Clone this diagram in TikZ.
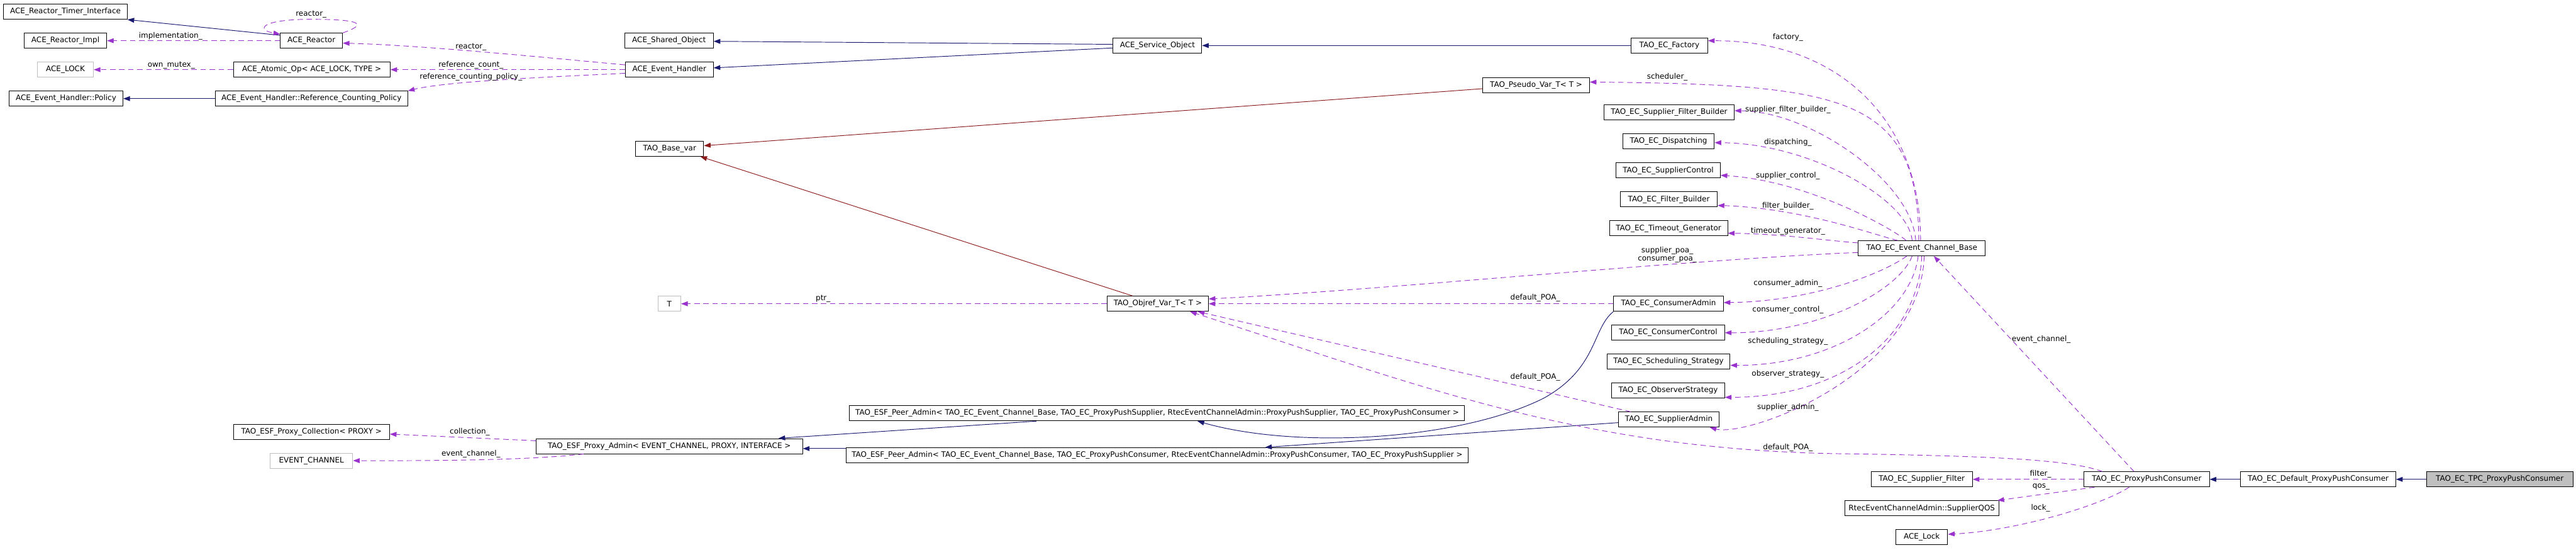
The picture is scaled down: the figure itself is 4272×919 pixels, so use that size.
\documentclass[tikz,border=0pt]{standalone}
\usepackage{fontspec}
\usetikzlibrary{arrows.meta,calc}
\newfontfamily\dvfont{DejaVu Sans}
\newcommand\dvsz{\dvfont\fontsize{12.5}{14}\selectfont}
\definecolor{inhblue}{HTML}{191970}
\definecolor{usepurple}{HTML}{9A32CD}
\definecolor{privred}{HTML}{8B1A1A}
\definecolor{boxgray}{HTML}{BFBFBF}
\definecolor{rootgray}{HTML}{BFBFBF}
\tikzset{
  box/.style={draw=black, line width=1pt, fill=white, minimum height=25pt, inner sep=0pt, font=\dvsz},
  gbox/.style={box, draw=boxgray},
  rootbox/.style={box, fill=rootgray},
  lbl/.style={inner sep=0pt, font=\dvsz},
  inh/.style={draw=inhblue, line width=1pt, -{Triangle[length=11pt,width=8pt]}},
  priv/.style={draw=privred, line width=1pt, -{Triangle[length=11pt,width=8pt]}},
  use/.style={draw=usepurple, line width=1pt, dash pattern=on 9pt off 6pt, -{Triangle[length=11pt,width=8pt]}}
}
\begin{document}
\begin{tikzpicture}[x=1pt,y=-1pt]
\useasboundingbox (0,0) rectangle (4272,919);
% column 1
\node[box, minimum width=205pt] (rti) at (108.5,19.5) {ACE\_Reactor\_Timer\_Interface};
\node[box, minimum width=137pt] (rimpl) at (108.5,67.5) {ACE\_Reactor\_Impl};
\node[gbox, minimum width=93pt] (lockL) at (108.5,115.5) {ACE\_LOCK};
\node[box, minimum width=189pt] (policy) at (109.5,163.5) {ACE\_Event\_Handler::Policy};
% column 2
\node[box, minimum width=103pt] (reactor) at (516.5,67.5) {ACE\_Reactor};
\node[box, minimum width=260pt] (atomic) at (517,115.5) {ACE\_Atomic\_Op< ACE\_LOCK, TYPE >};
\node[box, minimum width=319pt] (rcp) at (516.5,163.5) {ACE\_Event\_Handler::Reference\_Counting\_Policy};
\node[box, minimum width=259pt] (coll) at (516.5,715.5) {TAO\_ESF\_Proxy\_Collection< PROXY >};
\node[gbox, minimum width=137pt] (evch) at (516.5,763.5) {EVENT\_CHANNEL};
% column 3
\node[box, minimum width=147pt] (shared) at (1109.5,67.5) {ACE\_Shared\_Object};
\node[box, minimum width=146pt] (evh) at (1110,115.5) {ACE\_Event\_Handler};
\node[box, minimum width=113pt] (basevar) at (1110.5,246.5) {TAO\_Base\_var};
\node[gbox, minimum width=38pt] (T) at (1110,503.5) {T};
\node[box, minimum width=442pt] (proxyadmin) at (1110,739.5) {TAO\_ESF\_Proxy\_Admin< EVENT\_CHANNEL, PROXY, INTERFACE >};
% column 4
\node[box, minimum width=147pt] (aso) at (1919.5,75.5) {ACE\_Service\_Object};
\node[box, minimum width=168pt] (objref) at (1920,503.5) {TAO\_Objref\_Var\_T< T >};
\node[box, minimum width=1020pt] (peersup) at (1919,685) {TAO\_ESF\_Peer\_Admin< TAO\_EC\_Event\_Channel\_Base, TAO\_EC\_ProxyPushSupplier, RtecEventChannelAdmin::ProxyPushSupplier, TAO\_EC\_ProxyPushConsumer >};
\node[box, minimum width=1032pt] (peercons) at (1919,754.5) {TAO\_ESF\_Peer\_Admin< TAO\_EC\_Event\_Channel\_Base, TAO\_EC\_ProxyPushConsumer, RtecEventChannelAdmin::ProxyPushConsumer, TAO\_EC\_ProxyPushSupplier >};
\node[box, minimum width=177pt] (pseudo) at (2547.5,141) {TAO\_Pseudo\_Var\_T< T >};
% column 5
\node[box, minimum width=127pt] (factory) at (2768.5,75.5) {TAO\_EC\_Factory};
\node[box, minimum width=216pt] (sfb) at (2768,186.5) {TAO\_EC\_Supplier\_Filter\_Builder};
\node[box, minimum width=152pt] (dispatching) at (2767,234.5) {TAO\_EC\_Dispatching};
\node[box, minimum width=173pt] (supctl) at (2766.5,282.5) {TAO\_EC\_SupplierControl};
\node[box, minimum width=161pt] (fb) at (2767.5,330.5) {TAO\_EC\_Filter\_Builder};
\node[box, minimum width=196pt] (timeout) at (2767,378.5) {TAO\_EC\_Timeout\_Generator};
\node[box, minimum width=182pt] (consadmin) at (2767,503.5) {TAO\_EC\_ConsumerAdmin};
\node[box, minimum width=187pt] (consctl) at (2766.5,551.5) {TAO\_EC\_ConsumerControl};
\node[box, minimum width=204pt] (sched) at (2767,599.5) {TAO\_EC\_Scheduling\_Strategy};
\node[box, minimum width=187pt] (obs) at (2766.5,647.5) {TAO\_EC\_ObserverStrategy};
\node[box, minimum width=167pt] (supadmin) at (2767.5,695.5) {TAO\_EC\_SupplierAdmin};
% column 7
\node[box, minimum width=211pt] (ecb) at (3187,411.5) {TAO\_EC\_Event\_Channel\_Base};
\node[box, minimum width=168pt] (sfilter) at (3187,794.5) {TAO\_EC\_Supplier\_Filter};
\node[box, minimum width=256pt] (qos) at (3187,842.5) {RtecEventChannelAdmin::SupplierQOS};
\node[box, minimum width=86pt] (acelock) at (3187,890.5) {ACE\_Lock};
% right
\node[box, minimum width=208pt] (ppc) at (3560,794.5) {TAO\_EC\_ProxyPushConsumer};
\node[box, minimum width=257pt] (dppc) at (3844.5,794.5) {TAO\_EC\_Default\_ProxyPushConsumer};
\node[rootbox, minimum width=243pt] (tpc) at (4145.5,794.5) {TAO\_EC\_TPC\_ProxyPushConsumer};

% ---- inheritance (public)
\draw[inh] ($(reactor.west)+(0,-9)$) -- (rti.south east);
\draw[inh] (rcp.west) -- (policy.east);
\draw[inh] ($(aso.west)+(0,-2)$) -- ($(shared.east)+(0,1)$);
\draw[inh] ($(aso.west)+(0,4)$) -- ($(evh.east)+(0,-3)$);
\draw[inh] (factory.west) -- (aso.east);
\draw[inh] ($(peersup.south)+(-200,0)$) -- ($(proxyadmin.north)+(181,0)$);
\draw[inh] ($(peercons.west)+(0,-11)$) -- ($(proxyadmin.east)+(0,4)$);
\draw[inh] (consadmin.south west) .. controls (2640,545) and (2650,610) .. (2560,660)
           .. controls (2420,730) and (2150,745) .. ($(peersup.south)+(67,0)$);
\draw[inh] ($(supadmin.west)+(0,5)$) -- ($(peercons.north)+(179,0)$);
\draw[inh] (dppc.west) -- (ppc.east);
\draw[inh] (tpc.west) -- (dppc.east);
% ---- inheritance (private)
\draw[priv] ($(pseudo.west)+(0,6)$) -- ($(basevar.east)+(0,-5)$);
\draw[priv] ($(objref.north west)+(43,0)$) -- ($(basevar.south east)+(-6,0)$);

% ---- usage
\draw[use] (reactor.west) -- (rimpl.east);
\node[lbl] (l-impl) at (283,60) {implementation\_};
\draw[use] (reactor.north east) .. controls (610,40) and (600,32) .. (516,32)
           .. controls (430,32) and (425,50) .. ($(reactor.north west)+(0,2)$);
\node[lbl] (l-rloop) at (516,24) {reactor\_};
\draw[use] ($(evh.west)+(0,-8)$) .. controls (900,95) and (700,75) .. ($(reactor.east)+(0,4)$);
\node[lbl] (l-reactor) at (781,78) {reactor\_};
\draw[use] (evh.west) -- (atomic.east);
\node[lbl] (l-refc) at (781,108) {reference\_count\_};
\draw[use] ($(evh.west)+(0,6)$) .. controls (900,128) and (740,135) .. (rcp.north east);
\node[lbl] (l-rcp) at (781,128) {reference\_counting\_policy\_};
\draw[use] (atomic.west) -- (lockL.east);
\node[lbl] (l-mutex) at (284,108) {own\_mutex\_};
\draw[use] ($(proxyadmin.west)+(0,-9)$) -- ($(coll.east)+(0,4)$);
\node[lbl] (l-coll) at (779,716) {collection\_};
\draw[use] ($(proxyadmin.south)+(-142,0)$) .. controls (900,760) and (800,764) .. (evch.east);
\node[lbl] (l-evch) at (781,752) {event\_channel\_};
\draw[use] (objref.west) -- (T.east);
\node[lbl] (l-ptr) at (1365,495) {ptr\_};
\draw[use] (consadmin.west) -- (objref.east);
\node[lbl] (l-dpoa1) at (2546,494) {default\_POA\_};
\draw[use] ($(supadmin.north west)+(21,0)$) -- ($(objref.south east)+(-18,0)$);
\node[lbl] (l-dpoa2) at (2546,625) {default\_POA\_};
\draw[use] ($(ppc.north west)+(31,0)$) .. controls (3440,765) and (3350,756) .. (3050,752)
           .. controls (2620,745) and (2350,638) .. ($(objref.south east)+(-31,0)$);
\node[lbl] (l-dpoa3) at (2965,742) {default\_POA\_};
\draw[use] ($(ecb.west)+(0,7)$) .. controls (2800,430) and (2300,480) .. ($(objref.east)+(0,-8)$);
\node[lbl, align=center] (l-poa) at (2765,422) {supplier\_poa\_\\consumer\_poa\_};
% upper fan
\draw[use] ($(ecb.north)+(-2,0)$) .. controls (3185,200) and (3050,67) .. ($(factory.east)+(0,-8)$);
\node[lbl] (l-fact) at (2965,62) {factory\_};
\draw[use] ($(ecb.north)+(-5,0)$) .. controls (3181,160) and (3060,140) .. ($(pseudo.east)+(0,-5)$);
\node[lbl] (l-sch) at (2765,128) {scheduler\_};
\draw[use] ($(ecb.north)+(-10,0)$) .. controls (3170,300) and (3000,184) .. ($(sfb.east)+(0,-3)$);
\node[lbl] (l-sfb) at (2965,182) {supplier\_filter\_builder\_};
\draw[use] ($(ecb.north)+(-16,0)$) .. controls (3165,330) and (3000,237) .. ($(dispatching.east)+(0,2)$);
\node[lbl] (l-disp) at (2965,236) {dispatching\_};
\draw[use] ($(ecb.north)+(-26,0)$) .. controls (3140,380) and (3000,300) .. ($(supctl.east)+(0,8)$);
\node[lbl] (l-supctl) at (2965,291) {supplier\_control\_};
\draw[use] ($(ecb.north)+(-40,0)$) .. controls (3110,390) and (2990,345) .. ($(fb.east)+(0,10)$);
\node[lbl] (l-fb) at (2965,341) {filter\_builder\_};
\draw[use] ($(ecb.west)+(0,-9)$) .. controls (3020,398) and (2960,388) .. ($(timeout.east)+(0,8)$);
\node[lbl] (l-tg) at (2965,383) {timeout\_generator\_};
% lower fan
\draw[use] ($(ecb.south)+(-25,0)$) .. controls (3120,455) and (3000,500) .. ($(consadmin.east)+(0,-2)$);
\node[lbl] (l-ca) at (2965,470) {consumer\_admin\_};
\draw[use] ($(ecb.south)+(-16,0)$) .. controls (3150,480) and (3020,552) .. (consctl.east);
\node[lbl] (l-cc) at (2965,514) {consumer\_control\_};
\draw[use] ($(ecb.south)+(-6,0)$) .. controls (3170,520) and (3040,606) .. ($(sched.east)+(0,6)$);
\node[lbl] (l-ss) at (2965,566) {scheduling\_strategy\_};
\draw[use] (ecb.south) .. controls (3180,570) and (3040,659) .. ($(obs.east)+(0,11)$);
\node[lbl] (l-os) at (2965,620) {observer\_strategy\_};
\draw[use] ($(ecb.south)+(4,0)$) .. controls (3185,620) and (2900,725) .. ($(supadmin.south east)+(-16,0)$);
\node[lbl] (l-sa) at (2965,675) {supplier\_admin\_};
\draw[use] ($(ppc.north)+(-21,0)$) -- ($(ecb.south)+(20,0)$);
\node[lbl] (l-ec) at (3385,563) {event\_channel\_};
% proxy push consumer members
\draw[use] (ppc.west) -- (sfilter.east);
\node[lbl] (l-filter) at (3384,786) {filter\_};
\draw[use] ($(ppc.south west)+(18,0)$) -- ($(qos.north east)+(-3,0)$);
\node[lbl] (l-qos) at (3385,807) {qos\_};
\draw[use] ($(ppc.south)+(-29,0)$) .. controls (3480,840) and (3340,880) .. ($(acelock.east)+(0,-5)$);
\node[lbl] (l-lock) at (3384,842) {lock\_};
\end{tikzpicture}
\end{document}
